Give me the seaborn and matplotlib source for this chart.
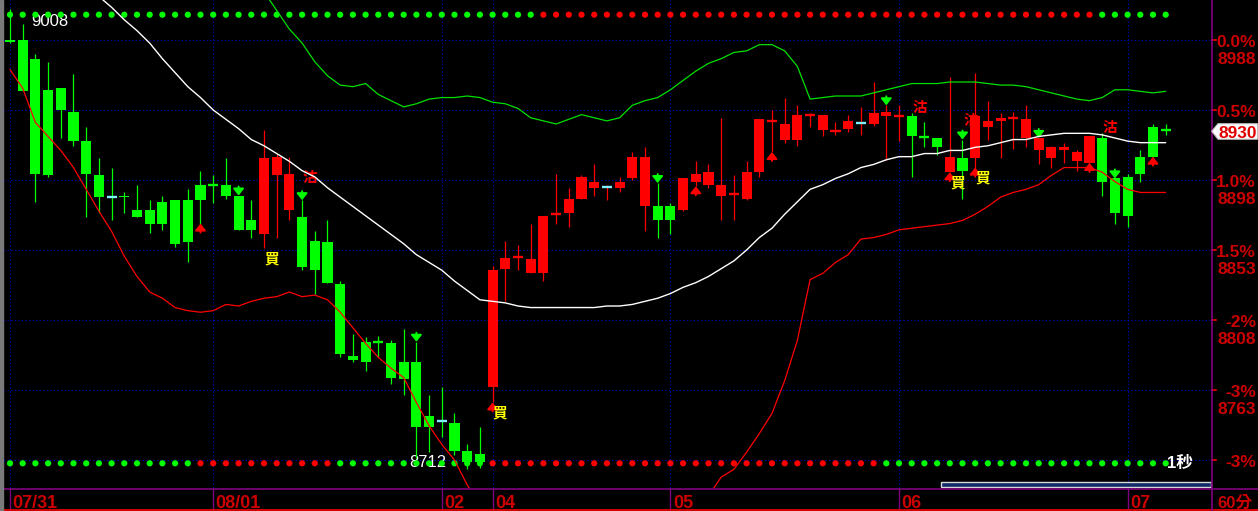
import numpy as np
import pandas as pd
import matplotlib
matplotlib.use("Agg")
import matplotlib.pyplot as plt
import matplotlib.transforms as mtransforms
from matplotlib.patches import Rectangle, Polygon
import seaborn as sns

nan = np.nan

# 60-minute bars, oldest first
opens = [8988, 8988, 8976, 8956, 8957, 8942, 8923, 8901, 8887.5, 8888,
         8879, 8879, 8884, 8885, 8885, 8895, 8895.5, 8895, 8888, 8872,
         8863, 8901, 8879, 8874, 8859, 8858, 8831, 8785, 8794, 8794.5,
         8793, 8781, 8781, 8746, 8743.5, 8742, 8724, 8722, 8765, 8841,
         8848, 8838, 8838, 8875.5, 8877, 8886, 8893, 8893, 8893, 8899,
         8881, 8881, 8881, 8879, 8897, 8895, 8888, 8888.5, 8886, 8903,
         8935.5, 8924, 8924, 8939.5, 8930, 8929, 8931, 8934, 8934, 8939,
         8938.5, 8939, 8926, 8925, 8903, 8912, 8912, 8932, 8936, 8937.5,
         8925, 8917, 8912, 8917, 8910, 8909, 8925, 8899, 8900, 8913,
         8932, 8930.5]
highs = [9008, 8998, 8979, 8974, 8957, 8966, 8932, 8912, 8906, 8890,
         8895, 8885, 8888, 8885, 8892, 8904, 8901, 8912, 8888, 8885,
         8930, 8915, 8913, 8885, 8865, 8872, 8833, 8799, 8797, 8798,
         8795, 8802, 8794, 8760, 8765, 8748, 8728, 8739, 8843, 8859,
         8856, 8870, 8875, 8902, 8893, 8901, 8908, 8895, 8900, 8916,
         8919, 8896, 8883, 8899, 8910, 8908, 8938, 8901, 8910, 8937,
         8943, 8951, 8946, 8941, 8940, 8935, 8940, 8945, 8961, 8946,
         8946, 8941, 8935, 8925, 8964, 8924, 8967, 8949, 8941, 8942,
         8946, 8925, 8920, 8922, 8917, 8926, 8928, 8899, 8902, 8917,
         8934, 8934]
lows = [8986, 8955, 8884, 8900, 8925, 8920, 8874, 8877, 8872, 8877,
        8874, 8864, 8866, 8855, 8845, 8870, 8883, 8886, 8866, 8861,
        8854, 8861, 8872, 8840, 8825, 8832, 8784, 8781, 8775, 8784,
        8767, 8760, 8719, 8723, 8733, 8721, 8712, 8713, 8755, 8820,
        8840, 8838, 8833, 8870, 8868, 8886, 8888, 8885, 8890, 8898,
        8865, 8861, 8863, 8878, 8894, 8893, 8872, 8872, 8885, 8900,
        8916, 8922, 8920, 8932, 8926, 8927, 8929, 8927, 8933, 8911,
        8923, 8900, 8919, 8914, 8903, 8886, 8906, 8924, 8912, 8918,
        8919, 8908, 8906, 8909, 8904, 8909, 8888, 8870, 8868, 8897,
        8913, 8927]
closes = [8987, 8955, 8902, 8901, 8943, 8923, 8902, 8887, 8887, 8887,
          8874, 8870, 8870, 8857, 8858, 8885, 8895, 8888, 8866, 8866,
          8912, 8913, 8902, 8842, 8840, 8832, 8786, 8782, 8781, 8794,
          8771, 8770, 8739, 8739, 8743, 8724, 8717, 8717, 8840, 8848,
          8848.5, 8847, 8875, 8876, 8886, 8900, 8897, 8893.5, 8897, 8913,
          8913, 8872, 8872, 8899, 8902, 8903, 8895, 8889, 8903, 8937,
          8936, 8934, 8940, 8940, 8940, 8929.5, 8936, 8934.5, 8941, 8942,
          8939, 8926, 8925.5, 8919, 8913, 8904, 8939, 8936, 8938, 8938,
          8937, 8925, 8919, 8919, 8916, 8926, 8897, 8877, 8875, 8902,
          8913, 8930]

# bands (white middle, green upper, red lower)
mid_band = [nan, nan, nan, nan, nan, nan, nan, 9016, 9009, 9001,
            8994, 8986, 8976, 8967, 8958, 8951, 8943, 8937, 8931, 8924,
            8920, 8915, 8910, 8904, 8900, 8893, 8887, 8881, 8875, 8869,
            8863, 8857, 8850, 8845, 8840, 8833, 8827, 8821, 8820, 8819,
            8817, 8816, 8816, 8816, 8816, 8816, 8816, 8817, 8817, 8818,
            8820, 8822, 8825, 8829, 8832, 8836, 8841, 8846, 8853, 8861,
            8867, 8876, 8884, 8892, 8895, 8899, 8902, 8906, 8908, 8911,
            8913, 8913, 8915, 8915, 8917, 8917, 8919, 8920, 8922, 8924,
            8924, 8926, 8927, 8928, 8928, 8928, 8927, 8925, 8923, 8922,
            8922, 8922]
upper_band = [nan, nan, nan, nan, nan, nan, nan, nan, nan, nan,
              nan, nan, nan, nan, nan, nan, nan, nan, nan, 9030,
              9019, 9007, 8995, 8986, 8974, 8965, 8959, 8958, 8960, 8953,
              8949, 8945, 8947, 8950, 8951, 8951, 8952, 8951, 8948, 8947,
              8944, 8938, 8936, 8934, 8937, 8940, 8938, 8936, 8938, 8946,
              8949, 8951, 8956, 8962, 8968, 8973, 8976, 8980, 8981, 8985,
              8985, 8981, 8971, 8950, 8951, 8952, 8952, 8952, 8954, 8956,
              8958, 8960, 8960, 8960, 8961, 8961, 8961, 8960, 8959, 8959,
              8958, 8956, 8954, 8952, 8950, 8949, 8951, 8956, 8956, 8955,
              8954, 8955]
lower_band = [8969, 8957, 8935, 8926, 8917, 8906, 8892, 8878, 8865, 8849,
              8836, 8826, 8822, 8816, 8814, 8813, 8814, 8818, 8817, 8820,
              8822, 8823, 8826, 8823, 8824, 8821, 8813, 8803, 8793, 8784,
              8777, 8771, 8755, 8740, 8728, 8718, 8702, 8689, nan, nan,
              nan, nan, nan, nan, nan, nan, nan, nan, nan, nan,
              nan, nan, nan, nan, nan, 8695, 8707, 8712, 8723, 8735,
              8748, 8769, 8795, 8834, 8838, 8845, 8850, 8860, 8861, 8863,
              8866, 8867, 8868, 8869, 8870, 8872, 8876, 8881, 8887, 8890,
              8892, 8895, 8901, 8906, 8906, 8906, 8903, 8897, 8892, 8890,
              8890, 8890]

flat_bars = [8, 34, 47, 67]          # drawn as cyan crosses
arrow_down = [18, 23, 32, 51, 69, 75, 81, 87]
arrow_up = [15, 38, 54, 60, 74, 76, 85, 90]
buy_bars = [20, 38, 74, 76]
sell_bars = [23, 71, 75, 86]
sell_price = [8899.6, 8944.6, 8936.2, 8931.7]

day_bars = [0, 16, 34, 38, 52, 70, 88]
day_labels = ["07/31", "08/01", "02", "04", "05", "06", "07"]

level_prices = [8988, 8943, 8898, 8853, 8808, 8763, 8718]
level_pct = ["0.0%", "0.5%", "1.0%", "1.5%", "-2%", "-3%", "-3%"]
level_txt = ["8988", "", "8898", "8853", "8808", "8763", ""]   # 8943 sits under the price tag

top_dots = [("g", 42), ("r", 44), ("g", 6)]
bottom_dots = [("g", 15), ("r", 11), ("g", 12), ("r", 31), ("g", 23)]

RED = "#ff0000"
GREEN = "#00ff00"
CYAN = "#80f0ff"
AXRED = "#cc0000"
PURPLE = "#800080"
GRID = "#0000d0"

W, H = 1258, 511


def fx(x):
    return x / W


def fy(y):
    return 1 - y / H


sns.set_style("dark", {"axes.facecolor": "black", "figure.facecolor": "black"})
plt.rcParams["font.family"] = ["Liberation Sans", "Noto Sans CJK TC", "DejaVu Sans"]

fig = plt.figure(figsize=(W / 100, H / 100), dpi=100)
fig.patch.set_facecolor("black")
ax = fig.add_axes([0, 23 / H, 1211 / W, 488 / H])
ax.set_xlim(-0.787, 94.567)
ax.set_ylim(8700.0, 9013.71)
ax.axis("off")

# grid
grid_kw = dict(color=GRID, lw=0.8, ls=(0, (1, 2.2)), zorder=1)
for p in level_prices:
    ax.axhline(p, **grid_kw)
for b in day_bars:
    ax.axvline(b, **grid_kw)

# candles
df = pd.DataFrame({"o": opens, "h": highs, "l": lows, "c": closes})
df["i"] = np.arange(len(df))
col = np.where(df.c > df.o, RED, GREEN)
ax.vlines(df.i, df.l, df.h, colors=col, lw=0.9, zorder=3)
body = (df.c - df.o).abs()
big = body > 0.6
ax.bar(df.i[big], body[big], bottom=np.minimum(df.o, df.c)[big], width=0.79,
       color=col[big.values], lw=0, zorder=3.2)
for i in df.i[~big]:
    c = CYAN if i in flat_bars else col[i]
    ax.hlines(df.c[i], i - 0.395, i + 0.395, colors=c, lw=1.7, zorder=3.3)

# bands
sns.lineplot(x=df.i, y=mid_band, ax=ax, color="white", lw=1.0, zorder=4,
             estimator=None, sort=False)
sns.lineplot(x=df.i, y=upper_band, ax=ax, color="#00e000", lw=0.9, zorder=4,
             estimator=None, sort=False)
sns.lineplot(x=df.i, y=lower_band, ax=ax, color=RED, lw=0.9, zorder=4,
             estimator=None, sort=False)
ax.axis("off")

# signal dots
trans_xa = mtransforms.blended_transform_factory(ax.transData, ax.transAxes)
cmap = {"g": GREEN, "r": RED}
for runs, yy in [(top_dots, 1 - 14.7 / 488), (bottom_dots, 1 - 463.3 / 488)]:
    cols = [cmap[c] for c, n in runs for _ in range(n)]
    ax.scatter(np.arange(len(cols)), [yy] * len(cols), transform=trans_xa,
               s=20, c=cols, lw=0, zorder=2.6, clip_on=False)

# arrows
for i in arrow_down:
    ax.annotate("", xy=(i, highs[i]), xytext=(0, 6.5), textcoords="offset points",
                arrowprops=dict(arrowstyle="-|>,head_length=0.4,head_width=0.32",
                                color=GREEN, lw=1.4, shrinkA=0, shrinkB=0,
                                mutation_scale=10), zorder=3.5)
for i in arrow_up:
    ax.annotate("", xy=(i, lows[i]), xytext=(0, -6.5), textcoords="offset points",
                arrowprops=dict(arrowstyle="-|>,head_length=0.4,head_width=0.32",
                                color=RED, lw=1.4, shrinkA=0, shrinkB=0,
                                mutation_scale=10), zorder=3.5)

# buy / sell marks
for i in buy_bars:
    ax.annotate("買", xy=(i, lows[i]), xytext=(5.5, -8), textcoords="offset points",
                ha="center", va="center", color="#ffff00", fontsize=10.5,
                fontweight="bold", zorder=5)
for i, p in zip(sell_bars, sell_price):
    ax.annotate("沽", xy=(i, p), xytext=(5.8, 0), textcoords="offset points",
                ha="center", va="center", color=RED, fontsize=10.5,
                fontweight="bold", zorder=2.8)

# high / low labels
imax = int(np.argmax(highs))
imin = int(np.argmin(lows))
ax.annotate(f"{highs[imax]:.0f}", xy=(imax, highs[imax]), xytext=(15.6, -12.3),
            textcoords="offset points", ha="left", va="baseline", color="white",
            fontsize=12, zorder=2.4)
ax.annotate(f"{lows[imin]:.0f}", xy=(imin, lows[imin]), xytext=(-14.8, 1.9),
            textcoords="offset points", ha="right", va="baseline", color="white",
            fontsize=12, zorder=2.4)

# right price scale
trans_fy = mtransforms.blended_transform_factory(fig.transFigure, ax.transData)
for p, pct, txt in zip(level_prices, level_pct, level_txt):
    ax.plot([fx(1212), fx(1216)], [p, p], transform=trans_fy, color=AXRED,
            lw=1.5, clip_on=False)
    ax.text(fx(1256), p, pct, ha="right", va="baseline", color=AXRED,
            fontsize=12.5, fontweight="bold",
            transform=mtransforms.offset_copy(trans_fy, fig=fig, y=-6.7, units="dots"))
    if txt:
        ax.text(fx(1256), p, txt, ha="right", va="baseline", color=AXRED,
                fontsize=12.5, fontweight="bold",
                transform=mtransforms.offset_copy(trans_fy, fig=fig, y=-24.3, units="dots"))

# frame lines
fig.add_artist(Rectangle((0, 0), fx(3), 1, transform=fig.transFigure,
                         color="#7a7a7a", zorder=5))
fig.add_artist(plt.Line2D([0, 1], [fy(488.5)] * 2, transform=fig.transFigure,
                          color=PURPLE, lw=1.2))
fig.add_artist(plt.Line2D([0, 1], [fy(509.5)] * 2, transform=fig.transFigure,
                          color="#d00000", lw=1.5))
fig.add_artist(plt.Line2D([fx(1211.5)] * 2, [0, 1], transform=fig.transFigure,
                          color=PURPLE, lw=1.2))
fig.add_artist(Rectangle((fx(941), fy(486.7)), fx(1210.7) - fx(941), 5 / H,
                         transform=fig.transFigure, facecolor="#102a66",
                         edgecolor="#d8d8d8", lw=1.0))

# date strip
trans_dx = mtransforms.blended_transform_factory(ax.transData, fig.transFigure)
for b, lab in zip(day_bars, day_labels):
    ax.plot([b, b], [fy(488.5), fy(508.5)], transform=trans_dx, color=PURPLE,
            lw=1.0, clip_on=False)
    ax.text(b, fy(508), lab, ha="left", va="baseline", color=AXRED, fontsize=13,
            fontweight="bold",
            transform=mtransforms.offset_copy(trans_dx, fig=fig, x=2.5, units="dots"))
fig.text(fx(1217), fy(508), "60分", ha="left", va="baseline", color=AXRED,
         fontsize=12, fontweight="bold")
fig.text(fx(1166.5), fy(467.5), "1秒", ha="left", va="baseline", color="white",
         fontsize=12, fontweight="bold")

# last price tag
yc = H - ax.transData.transform((0, closes[-1]))[1]
tag = [(fx(1211.7), fy(yc + 1)), (fx(1218), fy(yc - 6.5)), (fx(1257.5), fy(yc - 6.5)),
       (fx(1257.5), fy(yc + 9)), (fx(1218), fy(yc + 9))]
fig.add_artist(Polygon(tag, closed=True, transform=fig.transFigure,
                       facecolor="white", edgecolor="#c0c0c0", lw=0.8, zorder=6))
t = fig.text(fx(1237.5), fy(yc + 7.5), f"{closes[-1]:.0f}", ha="center", va="baseline",
             color="#e00000", fontsize=12.5, fontweight="bold")
t.set_zorder(7)

fig.savefig("out.png", dpi=100, facecolor="black")
